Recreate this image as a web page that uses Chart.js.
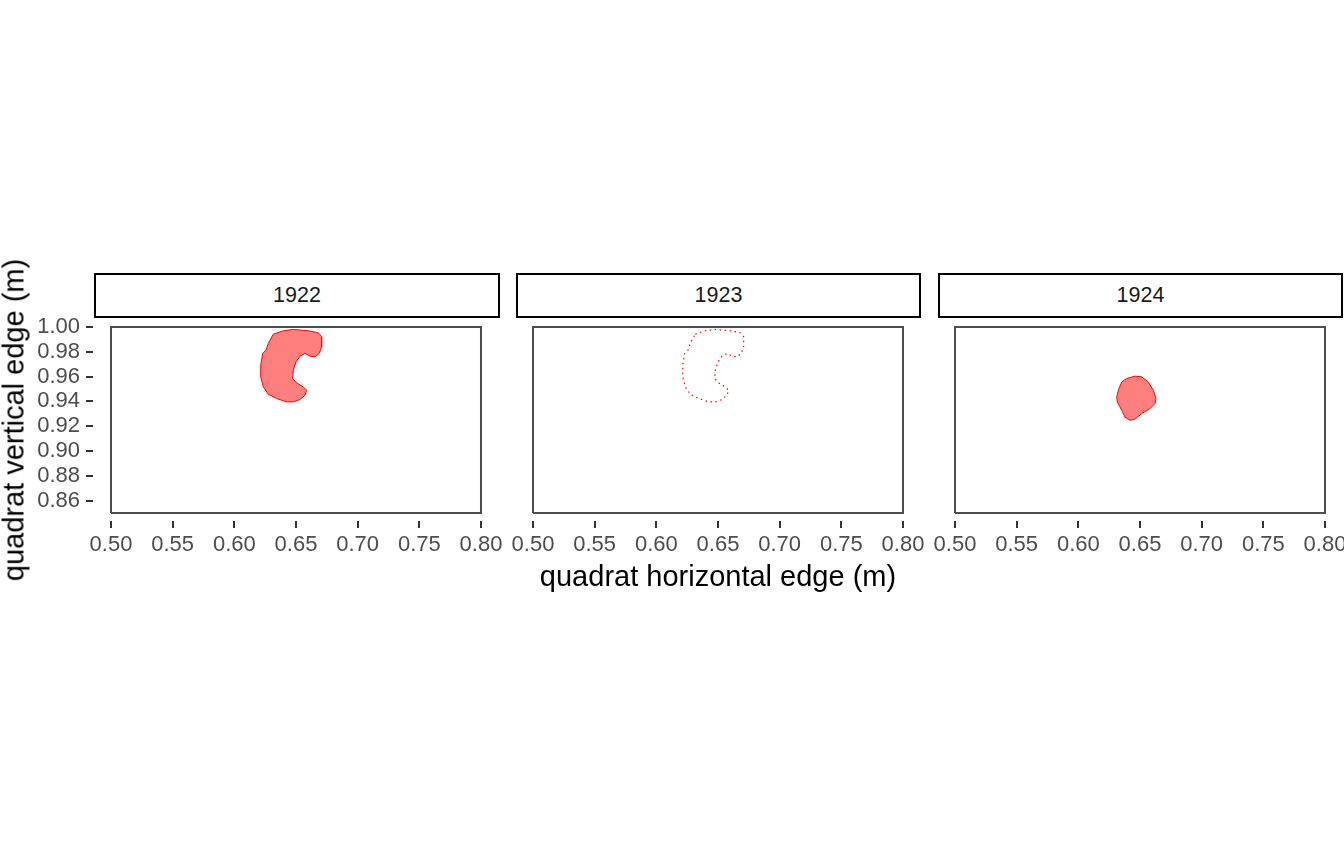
<!DOCTYPE html>
<html>
<head>
<meta charset="utf-8">
<script src="https://cdn.jsdelivr.net/npm/chart.js@4/dist/chart.umd.min.js"></script>
<style>
  html, body { margin: 0; padding: 0; background: #fff; overflow: hidden; }
  body { width: 1344px; height: 865px; position: relative; font-family: "Liberation Sans", Arial, sans-serif; }
  canvas { position: absolute; }
  .strip { position: absolute; box-sizing: border-box; border: 2px solid #000; background: #fff;
           font-size: 21.5px; color: #1a1a1a; display: flex; align-items: center; justify-content: center; }
  .axtitle { position: absolute; font-size: 29px; color: #000; white-space: nowrap; }
</style>
</head>
<body>
<div class="strip" style="left:94px; top:273px; width:406px; height:45px;" id="s0"></div>
<div class="strip" style="left:516px; top:273px; width:405px; height:45px;" id="s1"></div>
<div class="strip" style="left:938px; top:273px; width:405px; height:45px;" id="s2"></div>
<canvas id="c0" width="509" height="267" style="left:20px; top:299px;"></canvas>
<canvas id="c1" width="466" height="267" style="left:485px; top:299px;"></canvas>
<canvas id="c2" width="466" height="267" style="left:907px; top:299px;"></canvas>
<div class="axtitle" id="xt" style="left:718px; top:560px; transform:translateX(-50%);"></div>
<div class="axtitle" id="yt" style="left:14px; top:420px; transform:translate(-50%,-50%) rotate(-90deg);"></div>
<script>
// facettes par année
const years = ['1922', '1923', '1924'];
const xTicks = [0.50, 0.55, 0.60, 0.65, 0.70, 0.75, 0.80];
const yTicks = [0.86, 0.88, 0.90, 0.92, 0.94, 0.96, 0.98, 1.00];

// bord du quadrat
const quadratX = [0.50, 0.80, 0.80, 0.50, 0.50];
const quadratY = [0.85, 0.85, 1.00, 1.00, 0.85];

// contour de la plante 1922 (repris tel quel en 1923, en pointillé)
const shapeX1922 = [0.6316, 0.6397, 0.6478, 0.6600, 0.6681, 0.6708, 0.6708, 0.6689, 0.6654, 0.6614,
                    0.6573, 0.6532, 0.6500, 0.6478, 0.6473, 0.6506, 0.6559, 0.6587, 0.6573, 0.6532,
                    0.6478, 0.6425, 0.6344, 0.6275, 0.6235, 0.6214, 0.6214, 0.6230, 0.6257, 0.6275, 0.6316];
const shapeY1922 = [0.9943, 0.9970, 0.9981, 0.9970, 0.9954, 0.9922, 0.9841, 0.9787, 0.9760, 0.9765,
                    0.9787, 0.9765, 0.9719, 0.9652, 0.9585, 0.9549, 0.9517, 0.9490, 0.9450, 0.9415,
                    0.9396, 0.9396, 0.9423, 0.9458, 0.9517, 0.9598, 0.9693, 0.9787, 0.9814, 0.9868, 0.9943];
const shapeX1923 = shapeX1922;
const shapeY1923 = shapeY1922;
const shapeX1924 = [0.6324, 0.6352, 0.6392, 0.6459, 0.6514, 0.6567, 0.6608, 0.6630, 0.6622, 0.6581,
                    0.6514, 0.6459, 0.6419, 0.6378, 0.6352, 0.6316, 0.6311, 0.6324];
const shapeY1924 = [0.9490, 0.9557, 0.9585, 0.9604, 0.9598, 0.9557, 0.9490, 0.9423, 0.9383, 0.9342,
                    0.9302, 0.9256, 0.9248, 0.9274, 0.9328, 0.9396, 0.9436, 0.9490];

const shapeX = [shapeX1922, shapeX1923, shapeX1924];
const shapeY = [shapeY1922, shapeY1923, shapeY1924];
const dotted = [false, true, false];

function pts(xs, ys) {
    return xs.map((x, i) => ({x: x, y: ys[i]}));
}

document.getElementById('xt').textContent = 'quadrat horizontal edge (m)';
document.getElementById('yt').textContent = 'quadrat vertical edge (m)';

const tickFont = {family: '"Liberation Sans", Arial, sans-serif', size: 22};

years.forEach(function (yr, i) {
    document.getElementById('s' + i).textContent = yr;
    const ctx = document.getElementById('c' + i).getContext('2d');
    const first = i === 0;
    new Chart(ctx, {
        type: 'scatter',
        data: {
            datasets: [{
                data: pts(quadratX, quadratY),
                showLine: true,
                borderColor: '#4d4d4d',
                borderWidth: 2,
                pointRadius: 0,
                fill: false
            }, {
                data: pts(shapeX[i], shapeY[i]),
                showLine: true,
                borderColor: '#ff0000',
                borderWidth: dotted[i] ? 1.2 : 1,
                borderDash: dotted[i] ? [1.5, 3.5] : [],
                backgroundColor: dotted[i] ? 'rgba(0,0,0,0)' : 'rgba(255,0,0,0.5)',
                pointRadius: 0,
                fill: dotted[i] ? false : 'shape'
            }]
        },
        options: {
            responsive: false,
            animation: false,
            events: [],
            layout: {padding: {top: 20, right: 30, left: first ? 0 : 30, bottom: 0}},
            plugins: {legend: {display: false}, tooltip: {enabled: false}},
            scales: {
                x: {
                    type: 'linear',
                    min: 0.4854,
                    max: 0.8146,
                    afterBuildTicks: function (s) { s.ticks = xTicks.map(v => ({value: v})); },
                    afterFit: function (s) { s.height = 45; },
                    border: {display: false},
                    grid: {drawOnChartArea: false, drawTicks: true, tickLength: 7, color: '#333333', lineWidth: 2},
                    ticks: {
                        autoSkip: false, maxRotation: 0, padding: 4, color: '#4d4d4d', font: tickFont,
                        callback: v => v.toFixed(2)
                    }
                },
                y: {
                    type: 'linear',
                    display: first,
                    min: 0.8435,
                    max: 1.0065,
                    afterBuildTicks: function (s) { s.ticks = yTicks.map(v => ({value: v})); },
                    afterFit: function (s) { s.width = first ? 73 : 0; },
                    border: {display: false},
                    grid: {drawOnChartArea: false, drawTicks: true, tickLength: 7, color: '#333333', lineWidth: 2},
                    ticks: {
                        autoSkip: false, padding: 6, color: '#4d4d4d', font: tickFont,
                        callback: v => v.toFixed(2)
                    }
                }
            }
        }
    });
});
</script>
</body>
</html>
